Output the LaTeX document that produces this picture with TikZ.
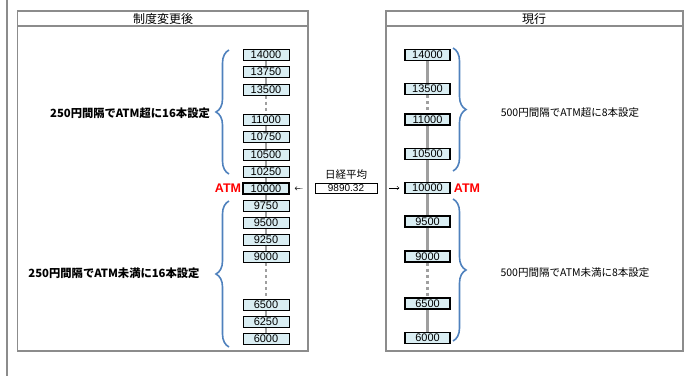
\documentclass[tikz,border=0pt]{standalone}
\usepackage{fontspec}
\setmainfont{Liberation Sans}
\newfontfamily\jp{Noto Sans CJK JP}
\usepackage{xcolor}
\usepackage{tikz}
\usetikzlibrary{decorations.pathreplacing, arrows.meta, calc}
\definecolor{strikefill}{HTML}{DAEEF3}
\definecolor{bracecol}{HTML}{4F81BD}
\definecolor{framegray}{HTML}{8C8C8C}

\begin{document}
\begin{tikzpicture}[x=1pt, y=-1pt,
    frame/.style={framegray, line width=1.6pt},
    strike/.style={draw, line width=0.8pt, fill=strikefill, minimum width=46pt, minimum height=11pt, inner sep=0pt, text depth=0pt, font=\fontsize{11}{11}\selectfont},
    atmbox/.style={strike, line width=1.5pt},
    spine/.style={gray!75, line width=2.5pt},
    gap/.style={spine, dash pattern=on 3pt off 3pt},
    curly/.style={bracecol, line width=1.6pt, decorate, decoration={brace, amplitude=13pt}},
    note/.style={font=\jp\fontsize{10.5}{12}\selectfont},
    boldnote/.style={font=\jp\bfseries\fontsize{11.3}{12}\selectfont},
    atm/.style={red, font=\bfseries\fontsize{12.5}{12}\selectfont, inner sep=0pt}]
    \useasboundingbox (0,0) rectangle (688,376);

    % Outer sheet line and the two panels
    \draw[frame] (7,0) -- (7,376);
    \draw[frame] (17.5,11) rectangle (308,351);
    \draw[frame] (17.5,26) -- (308,26);
    \draw[frame] (386,11) rectangle (683,351);
    \draw[frame] (386,26) -- (683,26);
    \node[font=\jp\fontsize{12}{12}\selectfont] (headL) at (163,18.5) {制度変更後};
    \node[font=\jp\fontsize{12}{12}\selectfont] (headR) at (534,18.5) {現行};

    % After the change: 250 yen steps
    \draw[spine] (266,55) -- (266,89.5);
    \draw[gap] (266,89.5) -- (266,120);
    \draw[spine] (266,120) -- (266,257);
    \draw[gap] (266,257) -- (266,304.5);
    \draw[spine] (266,304.5) -- (266,338.5);
    \foreach \v/\y in {14000/55, 13750/72, 13500/89.5, 11000/120, 10750/137, 10500/154.5, 10250/171.5, 9750/205.5, 9500/222.5, 9250/240, 9000/257, 6500/304.5, 6250/321.5, 6000/338.5}
        \node[strike] (l\v) at (266,\y) {\v};
    \node[atmbox] (l10000) at (266,188.5) {10000};
    \node[atm, anchor=east] (atmL) at ([xshift=-1pt]l10000.west) {ATM};

    \draw[curly] (229,174) -- (229,50);
    \draw[curly] (229,347) -- (229,201);
    \node[boldnote] (upL) at (130,113) {250円間隔でATM超に16本設定};
    \node[boldnote] (downL) at (114,273) {250円間隔でATM未満に16本設定};

    % Current: 500 yen steps
    \draw[spine] (427.5,55) -- (427.5,89);
    \draw[gap] (427.5,89) -- (427.5,119.5);
    \draw[spine] (427.5,119.5) -- (427.5,256.5);
    \draw[gap] (427.5,256.5) -- (427.5,303.5);
    \draw[spine] (427.5,303.5) -- (427.5,338);
    \foreach \v/\y in {14000/55, 13500/89, 11000/119.5, 10500/154, 9500/221.5, 9000/256.5, 6500/303.5, 6000/338}
        \node[strike, line width=1.2pt, minimum width=45pt] (r\v) at (427.5,\y) {\v};
    \node[atmbox, minimum width=45pt] (r10000) at (427.5,188) {10000};
    \node[atm, anchor=west] (atmR) at ([xshift=3pt]r10000.east) {ATM};

    \draw[curly] (453,48) -- (453,171);
    \draw[curly] (453,199) -- (453,341);
    \node[note] (upR) at (570,113) {500円間隔でATM超に8本設定};
    \node[note] (downR) at (575,273) {500円間隔でATM未満に8本設定};

    % Nikkei average in the middle
    \node[note] (avg) at (346,175) {日経平均};
    \node[draw, line width=0.8pt, fill=white, minimum width=62pt, minimum height=10pt, inner sep=0pt, text depth=0pt, font=\fontsize{10}{10}\selectfont] (nikkei) at (346,188) {9890.32};
    \draw[-{To[length=2.5pt,width=4pt]}, shorten <=12pt, shorten >=5pt] (nikkei.west) -- (l10000.east);
    \draw[-{To[length=2.5pt,width=4pt]}, shorten <=12pt, shorten >=5pt] (nikkei.east) -- (r10000.west);
\end{tikzpicture}
\end{document}
